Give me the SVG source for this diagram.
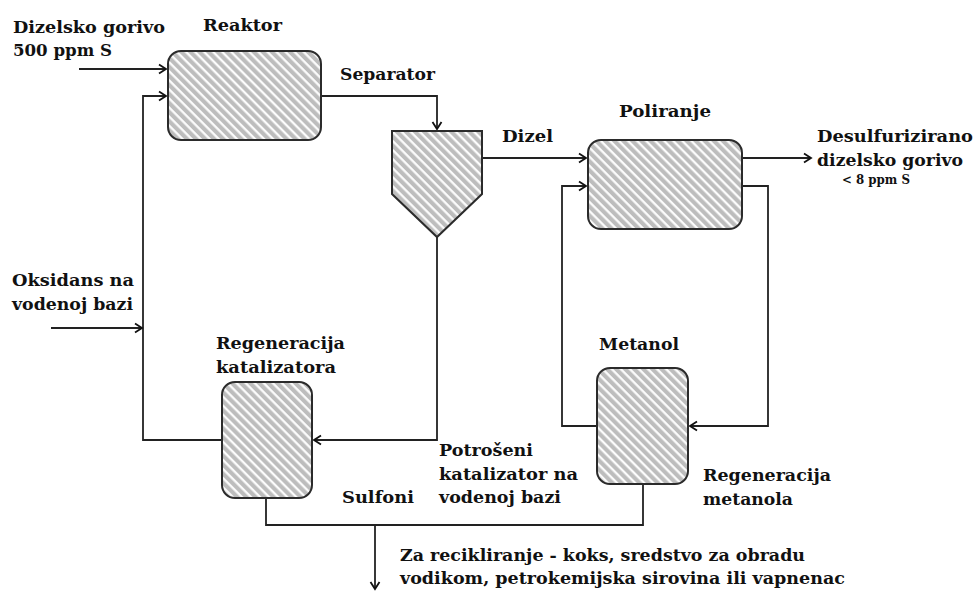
<svg xmlns="http://www.w3.org/2000/svg" width="976" height="591" viewBox="0 0 976 591">
<defs>
<pattern id="hatch" patternUnits="userSpaceOnUse" width="20" height="6.4" patternTransform="rotate(45)">
<rect width="20" height="6.4" fill="#bdbdbd"/>
<line x1="0" y1="1.2" x2="20" y2="1.2" stroke="#ffffff" stroke-width="2.2"/>
</pattern>
<marker id="arr" markerWidth="12" markerHeight="12" refX="9" refY="6" orient="auto" markerUnits="userSpaceOnUse">
<path d="M2,1.5 L9,6 L2,10.5" fill="none" stroke="#111" stroke-width="1.8"/>
</marker>
</defs>
<style>
.box{fill:url(#hatch);stroke:#2b2b2b;stroke-width:2}
.ln{fill:none;stroke:#222;stroke-width:1.8}
.t{font-family:"DejaVu Serif","Liberation Serif",serif;font-weight:bold;font-size:17px;fill:#111}
.s{font-family:"DejaVu Serif","Liberation Serif",serif;font-weight:bold;font-size:12px;fill:#111}
</style>
<rect width="976" height="591" fill="#ffffff"/>
<g id="connectors">
<line class="ln" x1="79" y1="69" x2="166" y2="69" marker-end="url(#arr)"/>
<polyline class="ln" points="222,440 143,440 143,96 166,96" marker-end="url(#arr)"/>
<line class="ln" x1="51" y1="328" x2="142" y2="328" marker-end="url(#arr)"/>
<polyline class="ln" points="321,96 437,96 437,129" marker-end="url(#arr)"/>
<polyline class="ln" points="437,237 437,440 314,440" marker-end="url(#arr)"/>
<line class="ln" x1="482" y1="158" x2="586" y2="158" marker-end="url(#arr)"/>
<line class="ln" x1="742" y1="158" x2="811" y2="158" marker-end="url(#arr)"/>
<polyline class="ln" points="597,426 562,426 562,186 586,186" marker-end="url(#arr)"/>
<polyline class="ln" points="742,186 768,186 768,426 690,426" marker-end="url(#arr)"/>
<polyline class="ln" points="266,498 266,525 643,525 643,484"/>
<line class="ln" x1="375" y1="525" x2="375" y2="589" marker-end="url(#arr)"/>
</g>
<g id="reaktor">
<rect class="box" x="168" y="51" width="153" height="89" rx="13"/>
<text class="t" x="203" y="31" textLength="79" lengthAdjust="spacingAndGlyphs">Reaktor</text>
</g>
<g id="separator">
<polygon class="box" points="392,131 482,131 482,194 437,237 392,194"/>
<text class="t" x="340" y="80" textLength="95" lengthAdjust="spacingAndGlyphs">Separator</text>
</g>
<g id="poliranje">
<rect class="box" x="588" y="140" width="154" height="89" rx="13"/>
<text class="t" x="619" y="117" textLength="92" lengthAdjust="spacingAndGlyphs">Poliranje</text>
</g>
<g id="regeneracija-katalizatora">
<rect class="box" x="222" y="382" width="90" height="116" rx="13"/>
<text class="t" x="216" y="349" textLength="129" lengthAdjust="spacingAndGlyphs">Regeneracija</text>
<text class="t" x="216" y="373" textLength="120" lengthAdjust="spacingAndGlyphs">katalizatora</text>
</g>
<g id="metanol">
<rect class="box" x="597" y="368" width="91" height="116" rx="13"/>
<text class="t" x="599" y="350" textLength="80" lengthAdjust="spacingAndGlyphs">Metanol</text>
</g>
<g id="labels">
<text class="t" x="13" y="33" textLength="152" lengthAdjust="spacingAndGlyphs">Dizelsko gorivo</text>
<text class="t" x="13" y="56" textLength="99" lengthAdjust="spacingAndGlyphs">500 ppm S</text>
<text class="t" x="12" y="286" textLength="122" lengthAdjust="spacingAndGlyphs">Oksidans na</text>
<text class="t" x="12" y="310" textLength="121" lengthAdjust="spacingAndGlyphs">vodenoj bazi</text>
<text class="t" x="502" y="142" textLength="51" lengthAdjust="spacingAndGlyphs">Dizel</text>
<text class="t" x="817" y="142" textLength="156" lengthAdjust="spacingAndGlyphs">Desulfurizirano</text>
<text class="t" x="817" y="166" textLength="146" lengthAdjust="spacingAndGlyphs">dizelsko gorivo</text>
<text class="s" x="842" y="184" textLength="68" lengthAdjust="spacingAndGlyphs">&lt; 8 ppm S</text>
<text class="t" x="342" y="503" textLength="72" lengthAdjust="spacingAndGlyphs">Sulfoni</text>
<text class="t" x="439" y="456" textLength="94" lengthAdjust="spacingAndGlyphs">Potrošeni</text>
<text class="t" x="439" y="480" textLength="139" lengthAdjust="spacingAndGlyphs">katalizator na</text>
<text class="t" x="439" y="503" textLength="122" lengthAdjust="spacingAndGlyphs">vodenoj bazi</text>
<text class="t" x="703" y="481" textLength="128" lengthAdjust="spacingAndGlyphs">Regeneracija</text>
<text class="t" x="703" y="505" textLength="90" lengthAdjust="spacingAndGlyphs">metanola</text>
<text class="t" x="400" y="561" textLength="405" lengthAdjust="spacingAndGlyphs">Za recikliranje - koks, sredstvo za obradu</text>
<text class="t" x="400" y="584" textLength="445" lengthAdjust="spacingAndGlyphs">vodikom, petrokemijska sirovina ili vapnenac</text>
</g>
</svg>
